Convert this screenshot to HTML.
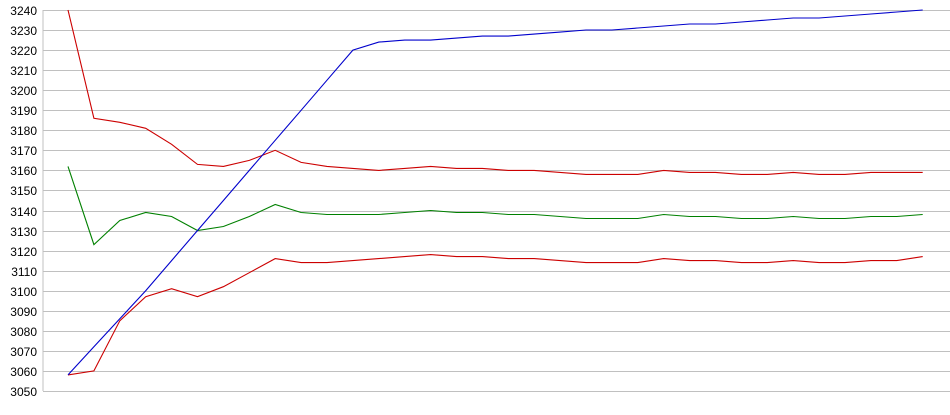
<!DOCTYPE html>
<html><head><meta charset="utf-8"><style>
html,body{margin:0;padding:0;background:#fff;width:950px;height:415px;overflow:hidden}
</style></head><body>
<svg id="c" width="950" height="415" xmlns="http://www.w3.org/2000/svg" style="display:block"></svg>
<script>
var s=document.getElementById('c'),h='';
function Y(v){return 10+(3240-v)*2.005;}
h+='<line x1="43" y1="10" x2="43" y2="391" stroke="#c0c0c0" stroke-width="1"/>';
for(var v=3050;v<=3240;v+=10){var y=Math.round(Y(v))+0.5;
h+='<line x1="43" y1="'+y+'" x2="950" y2="'+y+'" stroke="#c0c0c0" stroke-width="1"/>';
h+='<text x="37" y="'+(y+4.5)+'" text-anchor="end" font-family="Liberation Sans, Arial, sans-serif" font-size="12" fill="#000">'+v+'</text>';}
var B=[3058,3072,3086,3100,3115,3130,3145,3160,3175,3190,3205,3220,3224,3225,3225,3226,3227,3227,3228,3229,3230,3230,3231,3232,3233,3233,3234,3235,3236,3236,3237,3238,3239,3240];
var R1=[3240,3186,3184,3181,3173,3163,3162,3165,3170,3164,3162,3161,3160,3161,3162,3161,3161,3160,3160,3159,3158,3158,3158,3160,3159,3159,3158,3158,3159,3158,3158,3159,3159,3159];
var G=[3162,3123,3135,3139,3137,3130,3132,3137,3143,3139,3138,3138,3138,3139,3140,3139,3139,3138,3138,3137,3136,3136,3136,3138,3137,3137,3136,3136,3137,3136,3136,3137,3137,3138];
var R2=[3058,3060,3085,3097,3101,3097,3102,3109,3116,3114,3114,3115,3116,3117,3118,3117,3117,3116,3116,3115,3114,3114,3114,3116,3115,3115,3114,3114,3115,3114,3114,3115,3115,3117];
function P(a,c){var p=a.map(function(v,i){return (68+25.9*i).toFixed(1)+','+Y(v).toFixed(1)}).join(' ');
h+='<polyline points="'+p+'" fill="none" stroke="'+c+'" stroke-width="1.1"/>';}
P(R1,'#cc0000');P(G,'#008000');P(R2,'#cc0000');P(B,'#0000cc');
s.innerHTML=h;
</script>
</body></html>
